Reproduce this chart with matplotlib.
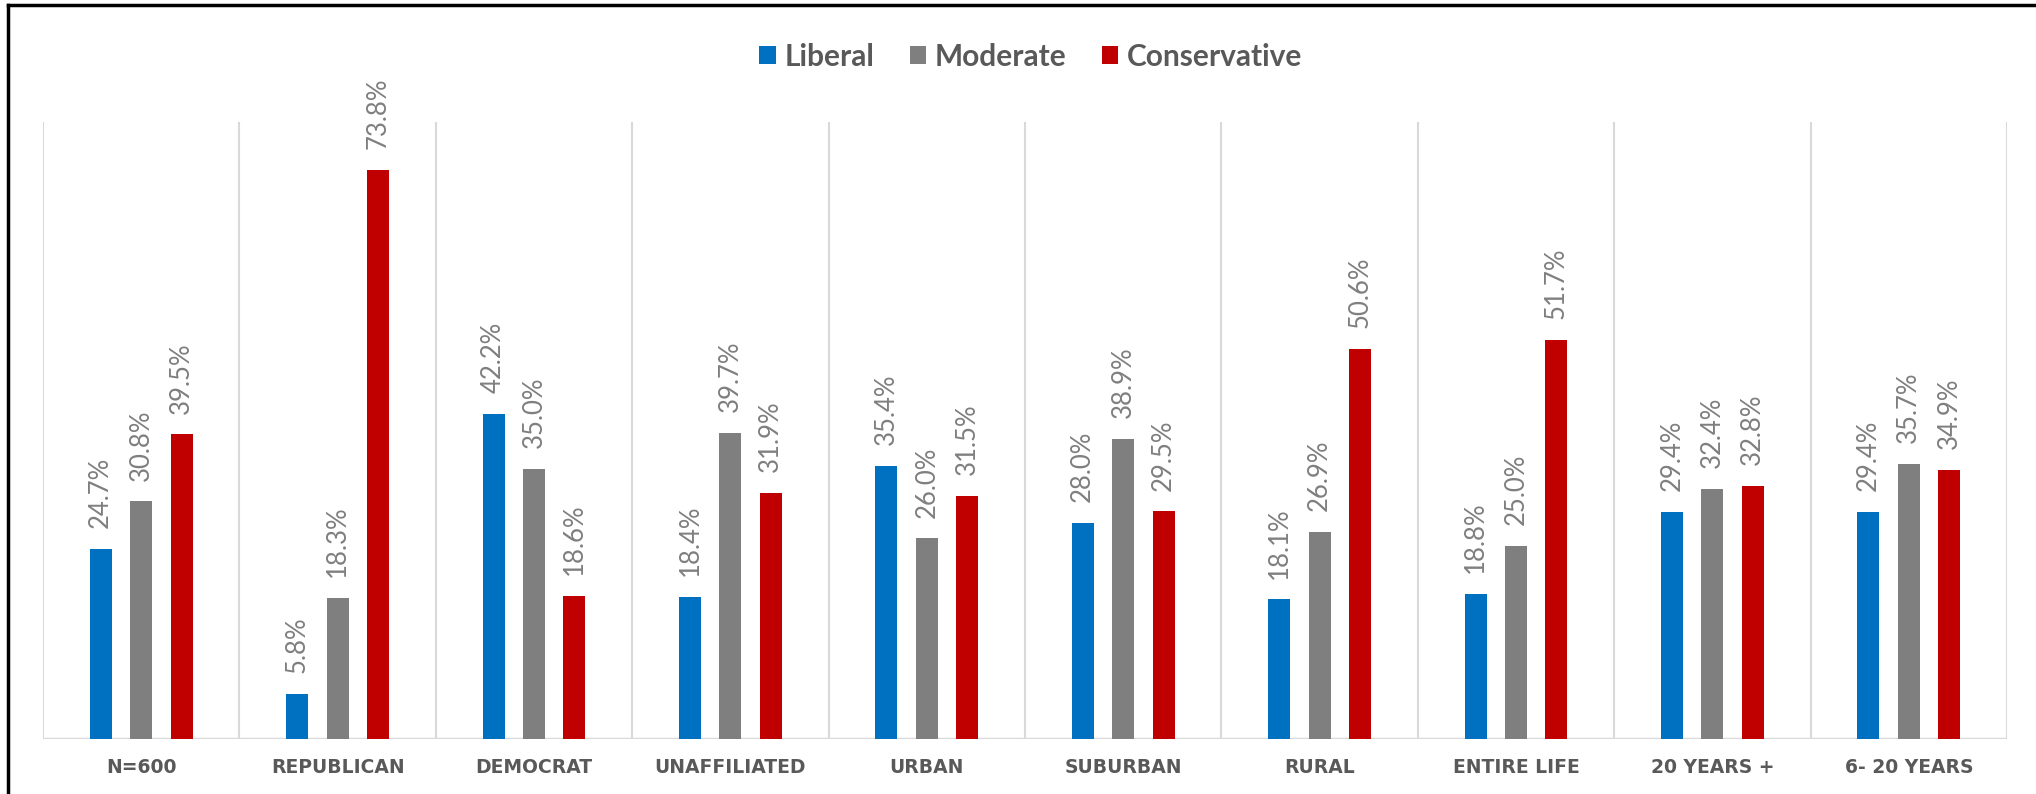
import matplotlib
matplotlib.use("Agg")
import matplotlib.pyplot as plt
import numpy as np
from matplotlib.lines import Line2D

categories = ["N=600", "REPUBLICAN", "DEMOCRAT", "UNAFFILIATED", "URBAN",
              "SUBURBAN", "RURAL", "ENTIRE LIFE", "20 YEARS +", "6- 20 YEARS"]
series_names = ["Liberal", "Moderate", "Conservative"]
liberal = [24.7, 5.8, 42.2, 18.4, 35.4, 28.0, 18.1, 18.8, 29.4, 29.4]
moderate = [30.8, 18.3, 35.0, 39.7, 26.0, 38.9, 26.9, 25.0, 32.4, 35.7]
conservative = [39.5, 73.8, 18.6, 31.9, 31.5, 29.5, 50.6, 51.7, 32.8, 34.9]
colors = ["#0070C0", "#7F7F7F", "#C00000"]

plt.rcParams['font.family'] = ['Lato', 'DejaVu Sans']

W, H = 2036, 794
fig = plt.figure(figsize=(W / 100, H / 100), dpi=100)
ax = fig.add_axes([43 / W, 1 - 739 / H, (2007 - 43) / W, (739 - 122) / H])

x = np.arange(len(categories))
width = 0.112
offsets = [-0.206, 0.0, 0.206]
for vals, off, col, name in zip([liberal, moderate, conservative], offsets, colors, series_names):
    bars = ax.bar(x + off, vals, width, color=col, label=name, zorder=3)
    ax.bar_label(bars, labels=[f"{v:.1f}%" for v in vals], rotation=90,
                 padding=15, color="#7F7F7F", fontsize=18.5)

ax.set_xlim(-0.5, len(categories) - 0.5)
ax.set_ylim(0, 80)
ax.vlines(np.arange(len(categories) + 1) - 0.5, 0, 80, color="#D9D9D9", lw=1.5, zorder=1)
ax.axhline(0, color="#D9D9D9", lw=2.5, zorder=2)
for s in ax.spines.values():
    s.set_visible(False)
ax.set_yticks([])
ax.set_xticks(x)
ax.set_xticklabels(categories, fontsize=13.5, fontweight="bold", color="#595959",
                   family=["DejaVu Sans"])
ax.tick_params(axis="x", length=0, pad=13.5)

leg = fig.legend(loc="center", bbox_to_anchor=(1031 / W, 1 - 57 / H), ncol=3, frameon=False,
                 handlelength=0.55, handleheight=0.55, handletextpad=0.3,
                 columnspacing=1.17, prop={'weight': 'bold', 'size': 21.5})
for t in leg.get_texts():
    t.set_color("#595959")

fig.add_artist(Line2D([8 / W, 1], [1 - 5 / H, 1 - 5 / H], color="black", lw=2.5, transform=fig.transFigure))
fig.add_artist(Line2D([8 / W, 8 / W], [0, 1 - 5 / H], color="black", lw=2.5, transform=fig.transFigure))

fig.savefig("out.png", dpi=100, facecolor="white")
